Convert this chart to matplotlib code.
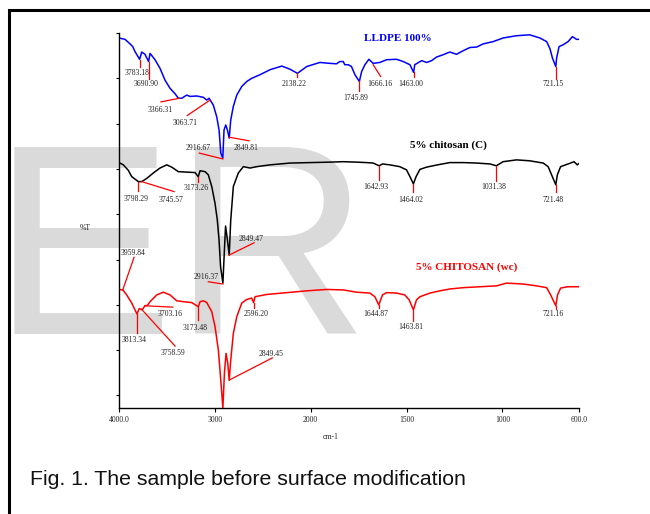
import numpy as np
import matplotlib
matplotlib.use("Agg")
import matplotlib.pyplot as plt
from matplotlib.patches import Rectangle

# spectra (wavenumber, %T on an arbitrary stacked scale)
blue_wn = [4000, 3937, 3885, 3857, 3833, 3785, 3763, 3729, 3691, 3676, 3624, 3572, 3520, 3468, 3415,
           3381, 3345, 3293, 3259, 3189, 3120, 3084, 3060, 3016, 2980, 2956, 2938, 2917, 2904, 2886,
           2869, 2850, 2834, 2807, 2771, 2719, 2667, 2615, 2528, 2424, 2301, 2215, 2138, 2041, 1952,
           1900, 1865, 1848, 1830, 1822, 1804, 1787, 1769, 1746, 1734, 1717, 1696, 1674, 1639, 1604,
           1552, 1517, 1482, 1463, 1457, 1421, 1395, 1369, 1343, 1309, 1274, 1239, 1204, 1169, 1134,
           1100, 1048, 996, 926, 858, 804, 769, 752, 738, 721, 717, 704, 683, 657, 634, 613, 600]
blue_t = [78.9, 78.6, 77.6, 77.0, 75.9, 74.2, 75.8, 75.3, 73.7, 75.5, 74.1, 72.2, 69.6, 67.8, 66.6,
          65.6, 65.6, 66.3, 66.0, 66.1, 65.8, 65.2, 65.6, 64.1, 61.5, 58.6, 53.5, 52.4, 58.6, 59.7,
          58.6, 56.8, 60.8, 63.8, 66.3, 68.2, 69.3, 70.0, 70.8, 71.9, 72.7, 72.0, 71.1, 72.6, 73.5,
          73.3, 73.2, 73.7, 73.7, 73.0, 73.0, 72.6, 70.8, 69.3, 71.5, 73.0, 74.2, 73.3, 73.5, 74.1,
          74.2, 73.7, 73.0, 71.3, 73.0, 73.9, 73.5, 73.9, 74.7, 75.2, 75.8, 75.3, 76.1, 76.8, 76.9,
          77.6, 78.1, 78.9, 79.4, 79.6, 78.9, 78.1, 76.6, 74.4, 72.6, 74.4, 77.0, 77.4, 78.1, 79.2, 78.6, 78.6]

black_wn = [4000, 3955, 3903, 3867, 3798, 3763, 3711, 3642, 3572, 3502, 3450, 3381, 3293, 3207, 3173,
            3154, 3102, 3068, 3032, 2998, 2974, 2956, 2940, 2916, 2898, 2888, 2875, 2850, 2834, 2807,
            2755, 2703, 2633, 2563, 2424, 2215, 2006, 1900, 1830, 1761, 1708, 1674, 1643, 1625, 1587,
            1535, 1500, 1482, 1464, 1450, 1430, 1395, 1361, 1326, 1274, 1204, 1134, 1065, 1031, 996,
            926, 858, 787, 761, 743, 721, 713, 696, 670, 644, 626, 609, 600]
black_t = [51.4, 50.9, 49.7, 48.3, 47.2, 47.2, 47.9, 49.1, 50.2, 50.9, 50.4, 49.4, 49.3, 49.2, 48.3,
           49.6, 49.4, 48.7, 46.1, 42.4, 38.7, 34.3, 28.4, 24.8, 33.0, 37.4, 35.4, 31.0, 38.7, 46.1,
           49.1, 50.5, 50.2, 50.5, 50.9, 51.3, 51.4, 51.5, 51.6, 51.5, 51.4, 51.3, 50.7, 51.1, 50.9,
           50.5, 49.8, 48.3, 46.7, 48.3, 49.9, 50.4, 50.7, 51.0, 51.4, 51.4, 51.3, 51.1, 50.7, 51.6,
           52.0, 51.8, 51.3, 50.5, 48.7, 46.5, 48.7, 50.5, 50.9, 51.3, 51.6, 50.9, 51.2]

red_wn = [4000, 3960, 3920, 3867, 3813, 3788, 3759, 3729, 3703, 3676, 3606, 3538, 3468, 3398, 3329,
          3241, 3173, 3154, 3120, 3084, 3032, 2998, 2963, 2938, 2916, 2900, 2883, 2865, 2850, 2834,
          2807, 2771, 2719, 2667, 2615, 2596, 2580, 2458, 2249, 2041, 1917, 1830, 1761, 1691, 1665,
          1645, 1625, 1604, 1552, 1509, 1486, 1464, 1448, 1430, 1378, 1326, 1274, 1204, 1117, 1030,
          978, 891, 822, 769, 748, 721, 712, 696, 661, 609, 600]
red_t = [23.4, 23.3, 22.2, 20.4, 18.0, 19.2, 18.9, 19.8, 19.9, 20.7, 22.2, 22.8, 22.2, 20.9, 20.7,
         20.5, 19.6, 20.7, 20.9, 20.5, 18.5, 15.2, 10.0, 3.4, -2.7, 4.9, 9.3, 7.1, 3.4, 7.8,
         13.7, 17.4, 20.4, 21.2, 21.5, 20.5, 21.8, 22.3, 22.7, 23.1, 23.4, 23.3, 22.8, 22.6, 21.8,
         20.0, 22.2, 22.7, 22.6, 22.2, 21.1, 18.9, 21.1, 21.8, 22.6, 23.1, 23.5, 23.8, 24.0, 24.2,
         24.8, 24.6, 24.2, 23.8, 22.2, 19.8, 22.2, 23.7, 24.0, 24.0, 24.0]

x_ticks = [4000, 3000, 2000, 1500, 1000, 600]
x_tick_labels = ["4000.0", "3000", "2000", "1500", "1000", "600.0"]

# peak labels: text, leader line (x1, y1, x2, y2), label centre (xt, yt)
blue_peaks = [
    ("3783.18", 3785, 74.0, 3785, 72.4, 3807, 71.1),
    ("3690.90", 3691, 73.5, 3691, 69.8, 3718, 68.7),
    ("3366.31", 3562, 64.8, 3370, 65.6, 3572, 63.0),
    ("3063.71", 3287, 61.8, 3050, 65.2, 3308, 60.1),
    ("2916.67", 3162, 53.5, 2917, 52.2, 3175, 54.6),
    ("2849.81", 2850, 57.0, 2643, 56.2, 2674, 54.6),
    ("2138.22", 2138, 71.1, 2138, 70.2, 2168, 68.7),
    ("1745.89", 1746, 69.3, 1746, 67.1, 1764, 65.6),
    ("1666.16", 1674, 73.0, 1635, 70.4, 1641, 68.7),
    ("1463.00", 1463, 71.3, 1463, 70.2, 1480, 68.7),
    ("721.15", 721, 72.6, 721, 69.8, 737, 68.7),
]
black_peaks = [
    ("3798.29", 3798, 47.2, 3798, 45.2, 3825, 43.3),
    ("3745.57", 3763, 47.2, 3426, 45.0, 3454, 43.2),
    ("3173.26", 3173, 48.3, 3173, 47.2, 3198, 45.7),
    ("2849.47", 2850, 31.0, 2591, 33.7, 2619, 34.5),
    ("2916.37", 3068, 25.1, 2916, 24.6, 3092, 26.2),
    ("1642.93", 1643, 50.7, 1643, 47.6, 1660, 46.0),
    ("1464.02", 1464, 46.7, 1464, 45.0, 1480, 43.2),
    ("1031.38", 1031, 50.7, 1031, 47.4, 1046, 46.0),
    ("721.48", 721, 46.5, 721, 45.0, 737, 43.2),
]
red_peaks = [
    ("3959.84", 3961, 23.3, 3843, 30.5, 3856, 31.5),
    ("3813.34", 3813, 18.0, 3813, 13.9, 3841, 12.3),
    ("3758.59", 3763, 19.0, 3415, 10.9, 3436, 9.3),
    ("3703.16", 3729, 19.8, 3439, 19.5, 3462, 18.0),
    ("3173.48", 3173, 19.6, 3173, 16.7, 3203, 15.0),
    ("2596.20", 2596, 20.5, 2596, 19.2, 2572, 18.0),
    ("2849.45", 2850, 3.4, 2400, 8.3, 2418, 9.2),
    ("1644.87", 1645, 20.0, 1645, 19.2, 1660, 18.0),
    ("1463.81", 1464, 18.9, 1464, 16.5, 1480, 15.1),
    ("721.16", 721, 19.8, 721, 19.0, 737, 18.0),
]


# FTIR axis: region below 2000 cm-1 is stretched x2
def fwd(x):
    x = np.asarray(x, dtype=float)
    return np.where(x >= 2000, x - 2000, 2 * (x - 2000))


def inv(y):
    y = np.asarray(y, dtype=float)
    return np.where(y >= 0, y + 2000, y / 2 + 2000)


serif = "Liberation Serif"

fig = plt.figure(figsize=(6.5, 5.14), dpi=100)

# background watermark
fig.text(-8 / 650, 1 - 334 / 514, "ER", fontsize=196, family="Liberation Sans",
         color="#dadada", ha="left", va="baseline", zorder=-5)

# outer frame (runs off the right and bottom)
fig.add_artist(Rectangle((9 / 650, -0.2), 1.2, 1.2 - 10 / 514, transform=fig.transFigure,
                         fill=False, lw=2.2, ec="black", clip_on=False))

ax = fig.add_axes([119 / 650, 1 - 408 / 514, 460 / 650, 375 / 514])
ax.patch.set_alpha(0)
ax.set_xscale("function", functions=(fwd, inv))
ax.set_xlim(4000, 600)
ax.set_ylim(-2.76, 80)

ax.plot(blue_wn, blue_t, color="#0000ff", lw=1.1)
ax.plot(black_wn, black_t, color="black", lw=1.1)
ax.plot(red_wn, red_t, color="#ff0000", lw=1.1)

for peaks in (blue_peaks, black_peaks, red_peaks):
    for lab, x1, y1, x2, y2, xt, yt in peaks:
        ax.plot([x1, x2], [y1, y2], color="#ff0000", lw=0.9)
        ax.text(xt, yt, lab, fontsize=5.5, family=serif, color="#222222",
                ha="center", va="center")

ax.text(1547, 78.7, "LLDPE 100%", fontsize=8, family=serif, weight="bold",
        color="#0000ff", ha="center", va="center")
ax.text(1283, 55.3, "5% chitosan (C)", fontsize=8, family=serif, weight="bold",
        color="black", ha="center", va="center")
ax.text(1185, 28.4, "5% CHITOSAN (wc)", fontsize=8, family=serif, weight="bold",
        color="#ff0000", ha="center", va="center")

ax.spines["top"].set_visible(False)
ax.spines["right"].set_visible(False)
ax.spines["left"].set_linewidth(1.0)
ax.spines["bottom"].set_linewidth(1.0)

ax.set_xticks(x_ticks)
ax.set_xticklabels(x_tick_labels, fontsize=5.5, family=serif, color="#222222")
ax.minorticks_off()
ax.set_yticks(range(0, 81, 10))
ax.set_yticklabels([])
ax.tick_params(axis="x", direction="out", length=3, width=0.8, pad=3)
ax.tick_params(axis="y", direction="out", length=2.5, width=0.8)

ax.text(-0.074, 0.48, "%T", transform=ax.transAxes, fontsize=5.5, family=serif,
        color="#222222", ha="center", va="center")
ax.text(0.461, -0.077, "cm-1", transform=ax.transAxes, fontsize=5.5, family=serif,
        color="#222222", ha="center", va="center")

fig.text(30 / 650, 1 - 485 / 514, "Fig. 1. The sample before surface modification",
         fontsize=15.3, family="Liberation Sans", color="#111111", ha="left", va="baseline")

fig.savefig("out.png", dpi=100)
